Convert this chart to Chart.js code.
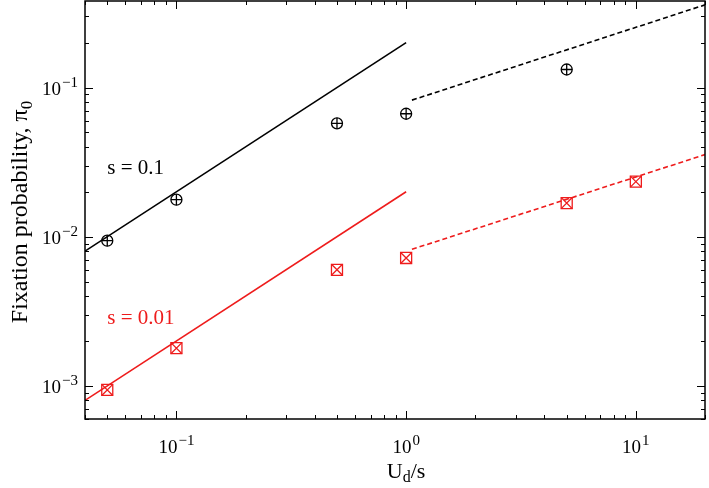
<!DOCTYPE html>
<html><head><meta charset="utf-8">
<script src="https://cdn.jsdelivr.net/npm/chart.js@4"></script>
<style>html,body{margin:0;padding:0;background:#fff}</style>
</head><body>
<canvas id="c" width="709" height="488"></canvas>
<script>
// ---- data ----
const ratioS01 = [0.05, 0.1, 0.5, 1, 5];
const fixS01 = [0.0094, 0.0177, 0.0575, 0.0667, 0.132];
const ratioS001 = [0.05, 0.1, 0.5, 1, 5, 10];
const fixS001 = [0.00094, 0.00179, 0.0060, 0.0072, 0.0168, 0.0234];
const fitLowX = [0.04, 1];
const fitLowS01 = [0.008, 0.2];
const fitLowS001 = [0.0008, 0.02];
const fitHighX = [1.06, 20];
const fitHighS01 = [0.0823, 0.358];
const fitHighS001 = [0.00823, 0.0355];
const xMajorTicks = [0.1, 1, 10];
const xTickExponents = ['\u22121', '0', '1'];
const yMajorTicks = [0.001, 0.01, 0.1];
const yTickExponents = ['\u22123', '\u22122', '\u22121'];
const seriesLabels = ['s = 0.1', 's = 0.01'];

const SERIF = '"Liberation Serif", "DejaVu Serif", serif';
const RED = '#ee1c1c';
const pts = (xs, ys) => xs.map((x, i) => ({x, y: ys[i]}));

const axesPlugin = {
  id: 'axesPlugin',
  afterDraw(chart) {
    const ctx = chart.ctx, a = chart.chartArea;
    const xs = chart.scales.x, ys = chart.scales.y;
    ctx.save();
    ctx.strokeStyle = '#000';
    ctx.lineWidth = 1.5;
    ctx.strokeRect(a.left, a.top, a.right - a.left, a.bottom - a.top);
    ctx.lineWidth = 1;
    const minorList = (min, max) => {
      const out = [];
      for (let e = -5; e <= 3; e++) for (let m = 1; m <= 9; m++) {
        const v = m * Math.pow(10, e);
        if (v >= min * 0.999 && v <= max * 1.001) out.push({v, major: m === 1});
      }
      return out;
    };
    minorList(xs.min, xs.max).forEach(t => {
      const px = Math.round(xs.getPixelForValue(t.v)) + 0.5;
      const len = t.major ? 8 : 4;
      ctx.beginPath();
      ctx.moveTo(px, a.bottom); ctx.lineTo(px, a.bottom - len);
      ctx.moveTo(px, a.top); ctx.lineTo(px, a.top + len);
      ctx.stroke();
    });
    minorList(ys.min, ys.max).forEach(t => {
      const py = Math.round(ys.getPixelForValue(t.v)) + 0.5;
      const len = t.major ? 8 : 4;
      ctx.beginPath();
      ctx.moveTo(a.left, py); ctx.lineTo(a.left + len, py);
      ctx.moveTo(a.right, py); ctx.lineTo(a.right - len, py);
      ctx.stroke();
    });
    const big = '19px ' + SERIF, small = '15px ' + SERIF;
    ctx.fillStyle = '#000';
    ctx.textBaseline = 'alphabetic';
    const drawPow = (exp, x, y, align) => {
      ctx.font = big; const w1 = ctx.measureText('10').width;
      ctx.font = small; const w2 = ctx.measureText(exp).width;
      const tot = w1 + w2 + 1;
      let x0 = align === 'center' ? x - tot / 2 : x - tot;
      ctx.textAlign = 'left';
      ctx.font = big; ctx.fillText('10', x0, y);
      ctx.font = small; ctx.fillText(exp, x0 + w1 + 1, y - 8);
    };
    xMajorTicks.forEach((v, i) => drawPow(xTickExponents[i], xs.getPixelForValue(v), 453, 'center'));
    yMajorTicks.forEach((v, i) => drawPow(yTickExponents[i], a.left - 7, ys.getPixelForValue(v) + 7, 'right'));
    // x title U_d/s
    const tBig = '22px ' + SERIF, tSmall = '16px ' + SERIF;
    ctx.font = tBig; const wU = ctx.measureText('U').width;
    ctx.font = tSmall; const wd = ctx.measureText('d').width;
    ctx.font = tBig; const ws = ctx.measureText('/s').width;
    const xc = xs.getPixelForValue(1);
    let x0 = xc - (wU + wd + ws) / 2;
    ctx.textAlign = 'left';
    ctx.font = tBig; ctx.fillText('U', x0, 478);
    ctx.font = tSmall; ctx.fillText('d', x0 + wU, 482);
    ctx.font = tBig; ctx.fillText('/s', x0 + wU + wd, 478);
    // y title
    ctx.save();
    ctx.translate(27, 212);
    ctx.rotate(-Math.PI / 2);
    const yBig = '24px ' + SERIF, ySmall = '17px ' + SERIF;
    const t1 = 'Fixation probability, \u03c0';
    ctx.font = yBig; const w1 = ctx.measureText(t1).width;
    ctx.font = ySmall; const w0 = ctx.measureText('0').width;
    const s0 = -(w1 + w0) / 2;
    ctx.font = yBig; ctx.fillText(t1, s0, 0);
    ctx.font = ySmall; ctx.fillText('0', s0 + w1, 5);
    ctx.restore();
    // series labels
    ctx.font = '21px ' + SERIF;
    ctx.fillStyle = '#000';
    ctx.fillText(seriesLabels[0], xs.getPixelForValue(0.05), ys.getPixelForValue(0.0295) + 7);
    ctx.fillStyle = RED;
    ctx.fillText(seriesLabels[1], xs.getPixelForValue(0.05), ys.getPixelForValue(0.0029) + 7);
    ctx.restore();
  }
};

const lineDs = (data, color, dash) => ({
  data, borderColor: color, borderWidth: 1.6, borderDash: dash, pointRadius: 0,
  showLine: true, fill: false, tension: 0, order: 2
});
const markDs = (data, color, style, r) => ({
  data, borderColor: color, backgroundColor: 'rgba(0,0,0,0)', borderWidth: 1.3,
  pointStyle: style, pointRadius: r, showLine: false, order: 1
});

new Chart(document.getElementById('c'), {
  type: 'scatter',
  data: {
    datasets: [
      lineDs(pts(fitLowX, fitLowS01), '#000', []),
      lineDs(pts(fitLowX, fitLowS001), RED, []),
      lineDs(pts(fitHighX, fitHighS01), '#000', [5, 3]),
      lineDs(pts(fitHighX, fitHighS001), RED, [5, 3]),
      markDs(pts(ratioS01, fixS01), '#000', 'circle', 5.5),
      markDs(pts(ratioS01, fixS01), '#000', 'cross', 5.5),
      markDs(pts(ratioS001, fixS001), RED, 'rect', 7.8),
      markDs(pts(ratioS001, fixS001), RED, 'crossRot', 7.8)
    ]
  },
  options: {
    responsive: false,
    animation: false,
    devicePixelRatio: 1,
    layout: {autoPadding: false, padding: {left: 85, right: 4, top: 1, bottom: 69}},
    plugins: {legend: {display: false}, tooltip: {enabled: false}},
    scales: {
      x: {type: 'logarithmic', min: 0.04, max: 20, display: false},
      y: {type: 'logarithmic', min: 0.0006, max: 0.38, display: false}
    }
  },
  plugins: [axesPlugin]
});
</script>
</body></html>
